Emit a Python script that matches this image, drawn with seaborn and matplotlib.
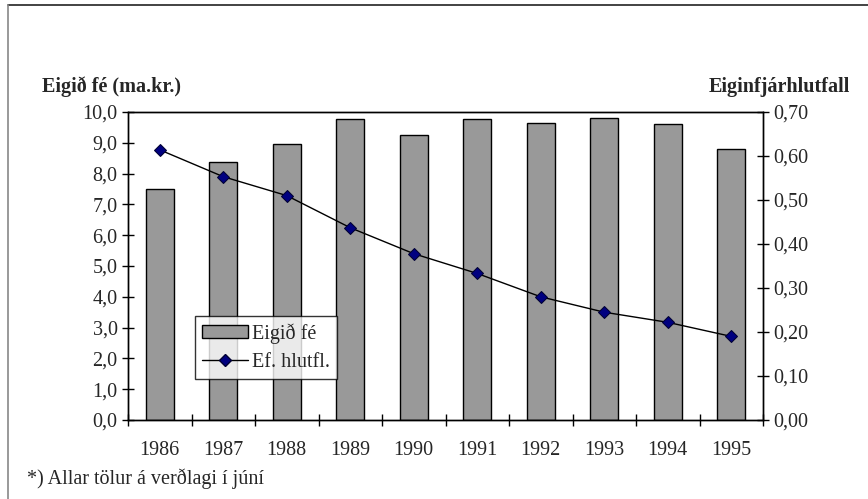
import numpy as np
import pandas as pd
import matplotlib
matplotlib.use("Agg")
import matplotlib.pyplot as plt
import seaborn as sns
from matplotlib.ticker import FuncFormatter, FixedLocator
from matplotlib.lines import Line2D
from matplotlib.patches import Patch

# data
years = ["1986", "1987", "1988", "1989", "1990", "1991", "1992", "1993", "1994", "1995"]
equity = [7.50, 8.37, 8.96, 9.76, 9.25, 9.76, 9.63, 9.79, 9.60, 8.80]
ratio = [0.614, 0.553, 0.510, 0.437, 0.378, 0.333, 0.280, 0.245, 0.222, 0.190]

df = pd.DataFrame({"year": years, "equity": equity, "ratio": ratio})

sns.set_style("white")
plt.rcParams["font.family"] = ["Liberation Serif", "DejaVu Serif"]
FS = 14.5

fig = plt.figure(figsize=(8.68, 4.99), dpi=100)
ax = fig.add_axes([128 / 868, 79 / 499, 635 / 868, 308 / 499])

sns.barplot(data=df, x="year", y="equity", ax=ax, color="#999999",
            edgecolor="black", linewidth=1, width=0.44, saturation=1)
ax.set_ylim(0, 10)
ax.set_xlim(-0.5, 9.5)
ax.set_xlabel("")
ax.set_ylabel("")
ax.yaxis.set_major_locator(FixedLocator(np.arange(0, 10.01, 1.0)))
ax.yaxis.set_major_formatter(FuncFormatter(lambda v, p: f"{v:.1f}".replace(".", ",")))

ax2 = ax.twinx()
sns.pointplot(data=df, x="year", y="ratio", ax=ax2, color="black",
              markers="D", linewidth=1, markersize=6, errorbar=None)
for ln in ax2.lines:
    ln.set_markerfacecolor("#000080")
    ln.set_markeredgecolor("#000033")
ax2.set_ylim(0, 0.70)
ax2.set_xlim(-0.5, 9.5)
ax2.set_xlabel("")
ax2.set_ylabel("")
ax2.yaxis.set_major_locator(FixedLocator(np.arange(0, 0.701, 0.1)))
ax2.yaxis.set_major_formatter(FuncFormatter(lambda v, p: f"{v:.2f}".replace(".", ",")))

for a in (ax, ax2):
    for s in a.spines.values():
        s.set_color("black")
        s.set_linewidth(1)
ax.tick_params(axis="y", direction="inout", length=9, width=1, labelsize=FS, pad=3, color="black")
ax2.tick_params(axis="y", direction="inout", length=9, width=1, labelsize=FS, pad=3, color="black")
ax.tick_params(axis="x", which="major", length=0, labelsize=FS, pad=15)
ax.xaxis.set_minor_locator(FixedLocator(np.arange(-0.5, 9.6, 1.0)))
ax.tick_params(axis="x", which="minor", direction="inout", length=9, width=1, color="black", bottom=True)
ax2.tick_params(axis="x", length=0)

ax.text(-0.135, 1.048, "Eigið fé (ma.kr.)", transform=ax.transAxes, fontsize=FS,
        fontweight="bold", ha="left", va="bottom")
ax.text(1.137, 1.048, "Eiginfjárhlutfall", transform=ax.transAxes, fontsize=FS,
        fontweight="bold", ha="right", va="bottom")

handles = [Patch(facecolor="#999999", edgecolor="black", linewidth=1),
           Line2D([0], [0], color="black", linewidth=1, marker="D", markersize=6,
                  markerfacecolor="#000080", markeredgecolor="#000033")]
leg = ax2.legend(handles, ["Eigið fé", "Ef. hlutfl."], loc="lower left",
                 bbox_to_anchor=(0.1055, 0.133), frameon=True, fancybox=False,
                 fontsize=FS, borderpad=0.35, handlelength=2.3, labelspacing=0.45,
                 handletextpad=0.2, borderaxespad=0, handleheight=0.6)
leg.get_frame().set_edgecolor("black")
leg.get_frame().set_linewidth(1)

fig.text(27 / 868, 15 / 499, "*) Allar tölur á verðlagi í júní", fontsize=FS,
         ha="left", va="baseline")

# outer frame: dark top line and grey left line
fig.add_artist(Line2D([8 / 868, 1.0], [1 - 5 / 499, 1 - 5 / 499], transform=fig.transFigure,
                      color="#222222", linewidth=1.2))
fig.add_artist(Line2D([8 / 868, 8 / 868], [0, 1 - 5 / 499], transform=fig.transFigure,
                      color="#888888", linewidth=1.2))

fig.savefig("out.png", dpi=100)
